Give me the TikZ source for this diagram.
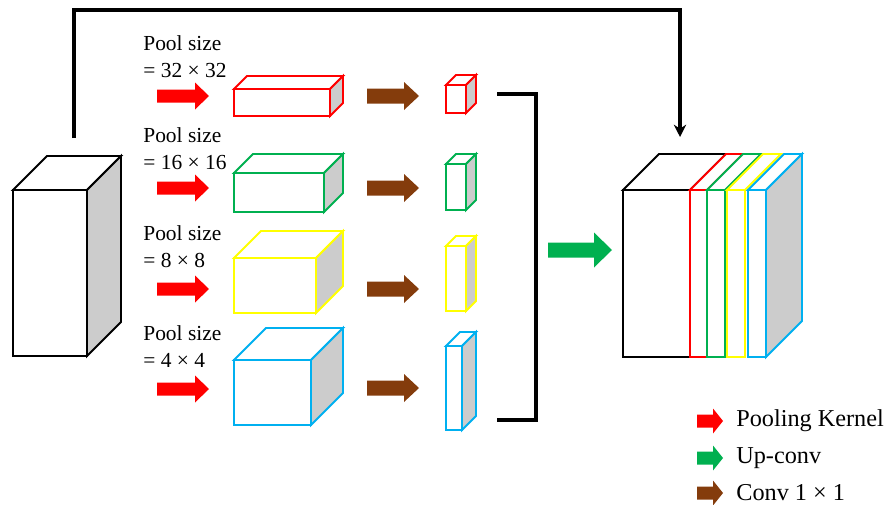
\documentclass[tikz,border=0pt]{standalone}
\usepackage{fontspec}
\setmainfont{Liberation Serif}
\usetikzlibrary{arrows.meta}
\definecolor{poolred}{RGB}{255,0,0}
\definecolor{upgreen}{RGB}{0,176,80}
\definecolor{convbrown}{RGB}{132,60,12}
\definecolor{featyellow}{RGB}{255,255,0}
\definecolor{featblue}{RGB}{0,176,240}
\definecolor{sidegray}{RGB}{204,204,204}

% cuboid: colour, front x1, y1, x2, y2, depth
\newcommand{\cuboid}[6]{%
  \filldraw[#1,fill=white] (#2,#3) rectangle (#4,#5);
  \filldraw[#1,fill=white] (#2,#3) -- (#2+#6,#3-#6) -- (#4+#6,#3-#6) -- (#4,#3) -- cycle;
  \filldraw[#1,fill=sidegray] (#4,#3) -- (#4+#6,#3-#6) -- (#4+#6,#5-#6) -- (#4,#5) -- cycle;
}
% block arrow: colour, x start, y, x tip, head length, shaft half, head half
\newcommand{\blockarrow}[7]{%
  \fill[#1] (#2,#3-#6) -- (#4-#5,#3-#6) -- (#4-#5,#3-#7) -- (#4,#3)
    -- (#4-#5,#3+#7) -- (#4-#5,#3+#6) -- (#2,#3+#6) -- cycle;
}

\begin{document}
\begin{tikzpicture}[
  x=0.02cm, y=-0.02cm,
  cube/.style={line width=1.1pt},
  link/.style={line width=1.8pt},
  poolsize/.style={font={\fontsize{12.2}{15.4}\selectfont}, align=left,
    anchor=west, inner sep=0pt},
  legend/.style={font={\fontsize{13.8}{16}\selectfont}, anchor=west,
    inner sep=0pt},
  ]
  \useasboundingbox (0,0) rectangle (889,504);
  % Input feature map
  \begin{scope}[cube]
    \cuboid{black}{13}{190}{87}{356}{34}
  \end{scope}
  % Skip connection
  \coordinate (skip start) at (74,138);
  \coordinate (skip end) at (680,137);
  \draw[link, -{Stealth[length=7pt,width=7pt]}]
    (skip start) |- (400,10) -| (skip end);
  % Pool size labels
  \node[poolsize] (size32) at (143,57) {Pool size\\= 32 × 32};
  \node[poolsize] (size16) at (143,149) {Pool size\\= 16 × 16};
  \node[poolsize] (size8) at (143,247) {Pool size\\= 8 × 8};
  \node[poolsize] (size4) at (143,347) {Pool size\\= 4 × 4};
  % Pooling kernels
  \blockarrow{poolred}{157}{96}{209}{14}{6.5}{13.5}
  \blockarrow{poolred}{157}{188}{209}{14}{6.5}{13.5}
  \blockarrow{poolred}{157}{289}{209}{14}{6.5}{13.5}
  \blockarrow{poolred}{157}{389}{209}{14}{6.5}{13.5}
  % Pooled maps
  \begin{scope}[cube]
    \cuboid{poolred}{234}{89}{330}{116}{13}
    \cuboid{upgreen}{234}{173}{324}{212}{19}
    \cuboid{featyellow}{234}{258}{316}{313}{27}
    \cuboid{featblue}{234}{360}{311}{425}{32}
  \end{scope}
  % Conv 1x1
  \blockarrow{convbrown}{367}{96}{419}{15}{7.5}{14}
  \blockarrow{convbrown}{367}{188}{419}{15}{7.5}{14}
  \blockarrow{convbrown}{367}{289}{419}{15}{7.5}{14}
  \blockarrow{convbrown}{367}{388}{419}{15}{7.5}{14}
  % Reduced maps
  \begin{scope}[cube]
    \cuboid{poolred}{446}{85}{466}{113}{10}
    \cuboid{upgreen}{446}{164}{466}{210}{10}
    \cuboid{featyellow}{446}{246}{466}{311}{10}
    \cuboid{featblue}{446}{346}{462}{430}{14}
  \end{scope}
  % Bracket
  \coordinate (brace top) at (497,94);
  \coordinate (brace bottom) at (497,420);
  \draw[link] (brace top) -- (536,94) -- (536,420) -- (brace bottom);
  % Up-conv
  \blockarrow{upgreen}{548}{250}{612}{18}{7.5}{17.5}
  % Concatenated output
  \begin{scope}[cube]
    \filldraw[black,fill=white] (623,190) rectangle (690,357);
    \filldraw[black,fill=white] (623,190) -- (659,154) -- (726,154) -- (690,190) -- cycle;
    \foreach \col/\xa/\xb in {poolred/690/707, upgreen/707/725,
        featyellow/727/745, featblue/748/766} {
      \filldraw[\col,fill=white] (\xa,190) rectangle (\xb,357);
      \filldraw[\col,fill=white] (\xa,190) -- (\xa+36,154) -- (\xb+36,154) -- (\xb,190) -- cycle;
    }
    \filldraw[featblue,fill=sidegray] (766,190) -- (802,154) -- (802,321) -- (766,357) -- cycle;
  \end{scope}
  % Legend
  \blockarrow{poolred}{697}{421}{723}{10}{6.5}{12.5}
  \blockarrow{upgreen}{697}{458}{723}{10}{6.5}{12.5}
  \blockarrow{convbrown}{697}{493}{723}{10}{6.5}{12.5}
  \node[legend] (key pool) at (736,421) {Pooling Kernel};
  \node[legend] (key up) at (736,458) {Up-conv};
  \node[legend] (key conv) at (736,493) {Conv 1 × 1};
\end{tikzpicture}
\end{document}
